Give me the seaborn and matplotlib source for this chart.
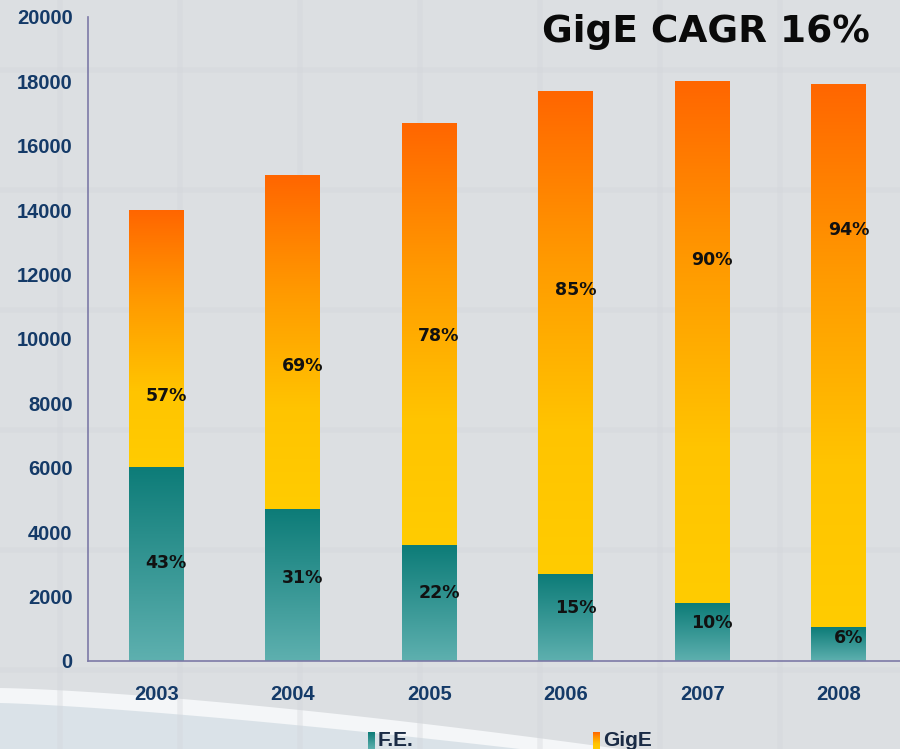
import numpy as np
import pandas as pd
import matplotlib
matplotlib.use("Agg")
import matplotlib.pyplot as plt
from matplotlib.colors import LinearSegmentedColormap
from matplotlib.patches import Polygon
import seaborn as sns

# ---- data ----
years = ["2003", "2004", "2005", "2006", "2007", "2008"]
fe_values = [6000, 4700, 3600, 2700, 1800, 1050]
gige_values = [8000, 10400, 13100, 15000, 16200, 16850]
fe_pct = ["43%", "31%", "22%", "15%", "10%", "6%"]
gige_pct = ["57%", "69%", "78%", "85%", "90%", "94%"]
fe_label_y = [3050, 2580, 2110, 1640, 1170, 700]
gige_label_y = [8230, 9160, 10090, 11520, 12450, 13390]
y_ticks = [0, 2000, 4000, 6000, 8000, 10000, 12000, 14000, 16000, 18000, 20000]
title = "GigE CAGR 16%"
legend_labels = ["F.E.", "GigE"]

totals = [f + g for f, g in zip(fe_values, gige_values)]
df = pd.DataFrame({"year": years, "fe": fe_values, "total": totals})

sns.set_style("white")
plt.rcParams["font.family"] = ["DejaVu Sans"]

BG = "#DCDFE2"
NAVY = "#143A68"
SPINE = "#7C79A6"
TICKFAM = ["Liberation Sans", "DejaVu Sans"]

fig = plt.figure(figsize=(9, 7.49), dpi=100, facecolor=BG)

# background swoosh
bg_ax = fig.add_axes([0, 0, 1, 1], zorder=-5)
bg_ax.set_xlim(0, 900)
bg_ax.set_ylim(749, 0)
bg_ax.axis("off")
for gx in range(60, 900, 120):
    bg_ax.axvline(gx, color="#D3D6DA", lw=4, alpha=0.35)
for gy in range(70, 700, 120):
    bg_ax.axhline(gy, color="#D3D6DA", lw=4, alpha=0.35)
xs = np.linspace(0, 620, 60)
curve = 688 + (749 - 688) * (xs / 620) ** 1.4
pts = [(0, 749)] + list(zip(xs, curve)) + [(620, 749)]
bg_ax.add_patch(Polygon(pts, closed=True, facecolor="#F4F6F8", edgecolor="none"))
xs2 = np.linspace(0, 520, 60)
curve2 = 703 + (749 - 703) * (xs2 / 520) ** 1.3
pts2 = [(0, 749)] + list(zip(xs2, curve2)) + [(520, 749)]
bg_ax.add_patch(Polygon(pts2, closed=True, facecolor="#C9D6DE", edgecolor="none", alpha=0.6))

ax = fig.add_axes([88 / 900, 1 - 661 / 749, 819 / 900, (661 - 17) / 749])
ax.set_facecolor("none")

sns.barplot(data=df, x="year", y="total", color="#FF8800", width=0.4, ax=ax,
            saturation=1, errorbar=None)
sns.barplot(data=df, x="year", y="fe", color="#1E8A85", width=0.4, ax=ax,
            saturation=1, errorbar=None)

fe_cmap = LinearSegmentedColormap.from_list("fe", ["#5EB0AF", "#0D7C78"])
gige_cmap = LinearSegmentedColormap.from_list(
    "gige", [(0, "#FFCC00"), (0.3, "#FFC400"), (0.65, "#FF9A00"), (1, "#FF6600")])
grad = np.linspace(0, 1, 256).reshape(-1, 1)

n = len(years)
patches = ax.patches
for i, p in enumerate(patches[:n]):
    x0 = p.get_x(); w = p.get_width()
    p.set_visible(False)
    ax.imshow(grad, cmap=gige_cmap, origin="lower", aspect="auto",
              extent=[x0, x0 + w, fe_values[i], totals[i]], zorder=2)
for i, p in enumerate(patches[n:2 * n]):
    x0 = p.get_x(); w = p.get_width()
    p.set_visible(False)
    ax.imshow(grad, cmap=fe_cmap, origin="lower", aspect="auto",
              extent=[x0, x0 + w, 0, fe_values[i]], zorder=2)

for i in range(n):
    ax.annotate(fe_pct[i], (i, fe_label_y[i]), xytext=(7, 0), textcoords="offset points",
                ha="center", va="center", fontsize=12.5, fontweight="bold", color="#111111", zorder=5)
    ax.annotate(gige_pct[i], (i, gige_label_y[i]), xytext=(7, 0), textcoords="offset points",
                ha="center", va="center", fontsize=12.5, fontweight="bold", color="#111111", zorder=5)

ax.set_xlim(-0.5, n - 0.5)
ax.set_ylim(0, 20000)
ax.set_yticks(y_ticks)
ax.set_yticklabels([str(t) for t in y_ticks])
ax.set_xlabel("")
ax.set_ylabel("")

for s in ["top", "right"]:
    ax.spines[s].set_visible(False)
for s in ["left", "bottom"]:
    ax.spines[s].set_color(SPINE)
    ax.spines[s].set_linewidth(1.2)

ax.tick_params(axis="y", direction="in", length=4, color=SPINE, pad=11, labelcolor=NAVY)
ax.tick_params(axis="x", which="major", length=0, pad=17, labelcolor=NAVY)
ax.set_xticks(np.arange(0.5, n - 0.5, 1.0), minor=True)
ax.tick_params(axis="x", which="minor", direction="in", length=6, color=SPINE)
for lab in ax.get_yticklabels() + ax.get_xticklabels():
    lab.set_fontfamily(TICKFAM)
    lab.set_fontweight("bold")
    lab.set_fontsize(14.5)

fig.text(870 / 900, 1 - 32 / 749, title, ha="right", va="center",
         fontsize=27, fontweight="bold", color="#0A0A0A")

# legend at bottom
for (lx, cmap, label) in [(368, fe_cmap, legend_labels[0]), (593, gige_cmap, legend_labels[1])]:
    sw = fig.add_axes([lx / 900, 0, 7 / 900, 17 / 749])
    sw.imshow(grad, cmap=cmap, origin="lower", aspect="auto")
    sw.axis("off")
    fig.text((lx + 10) / 900, 1 - 741 / 749, label, ha="left", va="center",
             fontsize=15, fontweight="bold", color="#1A2B45", family=TICKFAM)

fig.savefig("out.png", dpi=100, facecolor=BG)
